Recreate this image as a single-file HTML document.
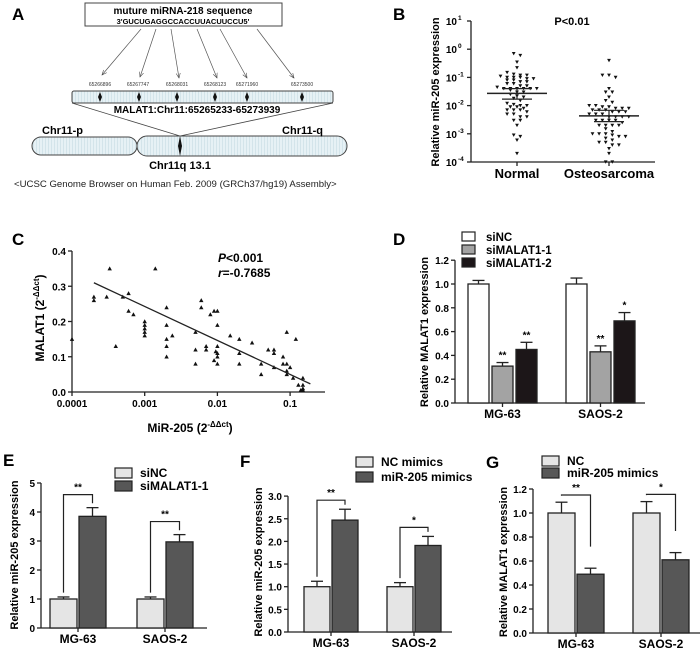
<!DOCTYPE html>
<html><head><meta charset="utf-8"><style>
html,body{margin:0;padding:0;background:#fff}
svg{display:block;font-family:"Liberation Sans",Arial,sans-serif}
.b{font-weight:bold}
</style></head><body>
<svg id="fig" width="700" height="655" viewBox="0 0 700 655" xmlns="http://www.w3.org/2000/svg">
<defs>
<pattern id="stripe" width="3" height="3" patternUnits="userSpaceOnUse"><rect width="3" height="3" fill="#e6f1f5"/><rect width="1" height="3" fill="#d3e4ea"/></pattern>
<marker id="arr" markerWidth="8" markerHeight="8" refX="7" refY="4" orient="auto"><path d="M0,1 L7,4 L0,7" fill="none" stroke="#444" stroke-width="0.8"/></marker>
</defs>
<g>
<text x="12" y="20" class="b" font-size="17">A</text>
<rect x="85" y="3" width="197" height="23" fill="#fff" stroke="#444"/>
<text x="183" y="14" class="b" font-size="10" text-anchor="middle">muture miRNA-218 sequence</text>
<text x="183" y="24" class="b" font-size="7.5" text-anchor="middle">3'GUCUGAGGCCACCUUACUUCCU5'</text>
<g stroke="#555" stroke-width="0.7" marker-end="url(#arr)">
<line x1="141" y1="29" x2="102" y2="75"/><line x1="156" y1="29" x2="140" y2="77"/><line x1="171" y1="29" x2="179" y2="78"/><line x1="197" y1="29" x2="217" y2="78"/><line x1="220" y1="29" x2="247" y2="78"/><line x1="257" y1="29" x2="294" y2="78"/>
</g>
<g font-size="5" fill="#333" text-anchor="middle">
<text x="100" y="86">65266896</text><text x="138" y="86">65267747</text><text x="177" y="86">65268031</text><text x="215" y="86">65268123</text><text x="247" y="86">65271960</text><text x="302" y="86">65273500</text>
</g>
<rect x="72" y="91" width="261" height="12" rx="2" fill="url(#stripe)" stroke="#444"/>
<g fill="#111">
<path d="M100,92 l2,5 l-2,5 l-2,-5z"/><path d="M139,92 l2,5 l-2,5 l-2,-5z"/><path d="M177,92 l2,5 l-2,5 l-2,-5z"/><path d="M215,92 l2,5 l-2,5 l-2,-5z"/><path d="M247,92 l2,5 l-2,5 l-2,-5z"/><path d="M302,92 l2,5 l-2,5 l-2,-5z"/>
</g>
<text x="197" y="113" class="b" font-size="10" text-anchor="middle">MALAT1:Chr11:65265233-65273939</text>
<line x1="72" y1="103" x2="180" y2="136" stroke="#444" stroke-width="0.8"/>
<line x1="333" y1="103" x2="180" y2="136" stroke="#444" stroke-width="0.8"/>
<rect x="32" y="137" width="105" height="18" rx="9" fill="url(#stripe)" stroke="#444"/>
<rect x="137" y="136" width="210" height="20" rx="10" fill="url(#stripe)" stroke="#444"/>
<path d="M180,136 l2,10 l-2,10 l-2,-10z" fill="#111"/>
<text x="42" y="134" class="b" font-size="11">Chr11-p</text>
<text x="323" y="134" class="b" font-size="11" text-anchor="end">Chr11-q</text>
<text x="180" y="169" class="b" font-size="11" text-anchor="middle">Chr11q 13.1</text>
<text x="14" y="187" font-size="9.6" fill="#222">&lt;UCSC Genome Browser on Human Feb. 2009 (GRCh37/hg19) Assembly&gt;</text>
</g>
<text x="393" y="20" class="b" font-size="17">B</text>
<text x="572" y="25" class="b" font-size="11" text-anchor="middle">P&lt;0.01</text>
<text transform="translate(439,92) rotate(-90)" class="b" font-size="11" text-anchor="middle">Relative miR-205 expression</text>
<text x="12" y="245" class="b" font-size="17">C</text>
<text x="218" y="262" class="b" font-size="12"><tspan font-style="italic">P</tspan>&lt;0.001</text>
<text x="218" y="277" class="b" font-size="12"><tspan font-style="italic">r</tspan>=-0.7685</text>
<text transform="translate(44,318) rotate(-90)" class="b" font-size="12" text-anchor="middle">MALAT1 (2<tspan font-size="8" dy="-5">-ΔΔct</tspan><tspan dy="5">)</tspan></text>
<text x="190" y="432" class="b" font-size="12" text-anchor="middle">MiR-205 (2<tspan font-size="8" dy="-5">-ΔΔct</tspan><tspan dy="5">)</tspan></text>
<text x="393" y="245" class="b" font-size="17">D</text>
<text transform="translate(428,332) rotate(-90)" class="b" font-size="11" text-anchor="middle">Relative MALAT1 expression</text>
<text x="3" y="466" class="b" font-size="17">E</text>
<text transform="translate(18,555) rotate(-90)" class="b" font-size="11" text-anchor="middle">Relative miR-205 expression</text>
<text x="240" y="467" class="b" font-size="17">F</text>
<text transform="translate(262,562) rotate(-90)" class="b" font-size="11" text-anchor="middle">Relative miR-205 expression</text>
<text x="486" y="468" class="b" font-size="17">G</text>
<text transform="translate(507,562) rotate(-90)" class="b" font-size="11" text-anchor="middle">Relative MALAT1 expression</text>
</svg>
<script>
var bGroups = ['Normal', 'Osteosarcoma'];
var bNormal = [0.7,0.6,0.35,0.22,0.15,0.13,0.12,0.12,0.11,0.1,0.1,0.1,0.09,0.09,0.08,0.08,0.07,0.07,0.06,0.06,0.05,0.05,0.045,0.04,0.04,0.04,0.04,0.04,0.04,0.035,0.03,0.03,0.025,0.022,0.02,0.018,0.015,0.012,0.011,0.01,0.01,0.009,0.009,0.008,0.007,0.007,0.007,0.006,0.005,0.005,0.004,0.004,0.003,0.003,0.002,0.0009,0.0008,0.0006,0.0002];
var bOsteo = [0.4,0.12,0.12,0.1,0.04,0.03,0.03,0.02,0.015,0.013,0.01,0.01,0.009,0.009,0.008,0.008,0.008,0.007,0.007,0.007,0.006,0.006,0.006,0.005,0.005,0.005,0.004,0.004,0.004,0.004,0.003,0.003,0.003,0.003,0.0025,0.002,0.002,0.002,0.002,0.0015,0.0012,0.001,0.001,0.001,0.0009,0.0008,0.0008,0.0007,0.0006,0.0005,0.0005,0.0004,0.0004,0.0003,0.0002,0.0001,0.0001];
var bMeans = [0.027, 0.0043];
var bSemLow = [0.017, 0.0027];
var bSemHigh = [0.04, 0.0068];
var bTickExp = ['1','0','-1','-2','-3','-4'];
var cX = [0.0001,0.0002,0.0002,0.0003,0.00033,0.0005,0.0006,0.0006,0.0007,0.0004,0.001,0.001,0.001,0.001,0.001,0.0014,0.002,0.002,0.002,0.002,0.002,0.0024,0.005,0.005,0.005,0.006,0.006,0.007,0.007,0.008,0.009,0.01,0.01,0.01,0.009,0.01,0.01,0.01,0.0095,0.015,0.02,0.02,0.02,0.03,0.04,0.04,0.05,0.06,0.06,0.06,0.08,0.08,0.09,0.09,0.09,0.09,0.12,0.1,0.11,0.13,0.15,0.15,0.15,0.15,0.14];
var cY = [0.15,0.27,0.26,0.27,0.35,0.27,0.28,0.23,0.22,0.13,0.20,0.19,0.18,0.17,0.16,0.35,0.24,0.19,0.15,0.13,0.10,0.16,0.17,0.12,0.08,0.26,0.24,0.13,0.12,0.22,0.23,0.23,0.19,0.13,0.09,0.11,0.10,0.08,0.115,0.16,0.15,0.11,0.08,0.14,0.08,0.05,0.12,0.12,0.11,0.07,0.10,0.08,0.08,0.06,0.05,0.17,0.15,0.07,0.04,0.02,0.04,0.02,0.01,0.005,0.005];
var cFitX = [0.0002, 0.19];
var cFitY = [0.31, 0.023];
var cXTicks = ['0.0001','0.001','0.01','0.1'];
var cYTicks = ['0.0','0.1','0.2','0.3','0.4'];
var dCats = ['MG-63','SAOS-2'];
var dSeries = ['siNC','siMALAT1-1','siMALAT1-2'];
var dSiNC = [1.0, 1.0];
var dSi1 = [0.31, 0.43];
var dSi2 = [0.45, 0.69];
var dErrNC = [0.03, 0.05];
var dErr1 = [0.03, 0.05];
var dErr2 = [0.06, 0.07];
var dStars1 = ['**','**'];
var dStars2 = ['**','*'];
var dTicks = ['0.0','0.2','0.4','0.6','0.8','1.0','1.2'];
var eCats = ['MG-63','SAOS-2'];
var eSeries = ['siNC','siMALAT1-1'];
var eCtrl = [1.0, 1.0];
var eTreat = [3.85, 2.97];
var eErrCtrl = [0.07, 0.07];
var eErrTreat = [0.3, 0.25];
var eStars = ['**','**'];
var eTicks = ['0','1','2','3','4','5'];
var fCats = ['MG-63','SAOS-2'];
var fSeries = ['NC mimics','miR-205 mimics'];
var fCtrl = [1.0, 1.0];
var fTreat = [2.47, 1.91];
var fErrCtrl = [0.12, 0.09];
var fErrTreat = [0.24, 0.2];
var fStars = ['**','*'];
var fTicks = ['0.0','0.5','1.0','1.5','2.0','2.5','3.0'];
var gCats = ['MG-63','SAOS-2'];
var gSeries = ['NC','miR-205 mimics'];
var gCtrl = [1.0, 1.0];
var gTreat = [0.49, 0.61];
var gErrCtrl = [0.09, 0.095];
var gErrTreat = [0.05, 0.06];
var gStars = ['**','*'];
var gTicks = ['0.0','0.2','0.4','0.6','0.8','1.0','1.2'];

var NS = 'http://www.w3.org/2000/svg';
var svg = document.getElementById('fig');
function mk(tag, attrs, parent) {
  var el = document.createElementNS(NS, tag);
  for (var k in attrs) el.setAttribute(k, attrs[k]);
  (parent || svg).appendChild(el);
  return el;
}
function line(x1,y1,x2,y2,p,w){return mk('line',{x1:x1,y1:y1,x2:x2,y2:y2,stroke:'#222','stroke-width':w||1.3},p);}
function txt(x,y,s,anchor,size,p){var t=mk('text',{x:x,y:y,'text-anchor':anchor||'middle','font-size':size||10,'font-weight':'bold'},p);t.textContent=s;return t;}

(function(){
  var g = mk('g',{});
  
  
  var x0=471, x1=655, yTop=21, yBot=162, dec=(yBot-yTop)/5;
  function yB(v){return yBot-(Math.log10(v)+4)*dec;}
  var centers=[517,609];
  var ax=line(x0,yTop,x0,yBot,g);  
  var bx=line(x0,yBot,x1,yBot,g);  
  for(var i=0;i<bTickExp.length;i++){
    var e=parseFloat(bTickExp[i]); var y=yB(Math.pow(10,e));
    line(x0-4,y,x0,y,g);
    var t=mk('text',{x:x0-14,y:y+4,'text-anchor':'end','font-size':10,'font-weight':'bold'},g);
    t.textContent='10';
    
    
    var s=mk('text',{x:x0-13,y:y-1,'text-anchor':'start','font-size':6.5,'font-weight':'bold'},g);
    s.textContent=bTickExp[i];
    
    
  }
  var groups=[bNormal,bOsteo];
  for(var gi=0;gi<2;gi++){
    var c=centers[gi];
    line(c,yBot,c,yBot+4,g);
    var lb=txt(c,yBot+16,bGroups[gi],'middle',13,g);
    
    
    var vals=groups[gi].slice().sort(function(a,b){return b-a;});
    var rows=[]; var cur=null;
    for(var k=0;k<vals.length;k++){
      var y=yB(vals[k]);
      if(cur && Math.abs(y-cur.y0)<3){cur.ys.push(y);} else {cur={y0:y,ys:[y]};rows.push(cur);}
    }
    rows.forEach(function(r){
      var n=r.ys.length;
      r.ys.forEach(function(y,j){
        var x=c+(j-(n-1)/2)*6.6;
        var p=mk('path',{d:'M'+(x-1.9)+','+(y-1.6)+' L'+(x+1.9)+','+(y-1.6)+' L'+x+','+(y+1.8)+'Z',fill:'#111'},g);
        
        
      });
    });
    var m=line(c-30,yB(bMeans[gi]),c+30,yB(bMeans[gi]),g,1.5);
    
    
    line(c,yB(bSemLow[gi]),c,yB(bSemHigh[gi]),g,1.2);
    line(c-15,yB(bSemLow[gi]),c+15,yB(bSemLow[gi]),g,1.2);
    line(c-15,yB(bSemHigh[gi]),c+15,yB(bSemHigh[gi]),g,1.2);
  }
})();

(function(){
  var g = mk('g',{});
  
  
  var x0=72, xEnd=325, y0=392, yTop=251;
  function xC(v){return x0+(Math.log10(v)+4)*72.7;}
  function yC(v){return y0-v*352.5;}
  var ax=line(x0,yTop,x0,y0,g);  
  var bx=line(x0,y0,xEnd,y0,g);  
  cYTicks.forEach(function(s){var y=yC(parseFloat(s));line(x0-4,y,x0,y,g);
    var t=txt(x0-6,y+4,s,'end',10,g);  });
  cXTicks.forEach(function(s){var x=xC(parseFloat(s));line(x,y0,x,y0+4,g);
    var t=txt(x,y0+15,s,'middle',10,g);  });
  for(var i=0;i<cX.length;i++){
    var x=xC(cX[i]), y=yC(cY[i]);
    var p=mk('path',{d:'M'+(x-2.2)+','+(y+1.8)+' L'+(x+2.2)+','+(y+1.8)+' L'+x+','+(y-2.2)+'Z',fill:'#111'},g);
    
    
  }
  var fl=line(xC(cFitX[0]),yC(cFitY[0]),xC(cFitX[1]),yC(cFitY[1]),g,1.3);
  
  
})();

function bar(g,x,w,y,yBase,fill,name){
  var r=mk('rect',{x:x,y:y,width:w,height:yBase-y,fill:fill,stroke:'#222','stroke-width':1.3},g);
  
  
  return r;
}
function errbar(g,cx,yv,ye,cap){line(cx,yv,cx,ye,g,1.3);line(cx-cap,ye,cx+cap,ye,g,1.3);}

(function(){
  var g = mk('g',{});
  
  
  var x0=455, xEnd=645, yBase=403;
  function yD(v){return yBase-v*119;}
  var ax=line(x0,yD(1.2),x0,yBase,g);  
  var bx=line(x0,yBase,xEnd,yBase,g);  
  dTicks.forEach(function(s){var y=yD(parseFloat(s));line(x0-4,y,x0,y,g);
    var t=txt(x0-6,y+4,s,'end',10,g);  });
  var starts=[468,566], w=21, step=24, fills=['#ffffff','#a3a3a3','#1c1618'];
  var vals=[dSiNC,dSi1,dSi2], errs=[dErrNC,dErr1,dErr2];
  for(var c=0;c<2;c++){
    for(var s=0;s<3;s++){
      var bxp=starts[c]+s*step;
      var yv=yD(vals[s][c]);
      errbar(g,bxp+w/2,yv,yD(vals[s][c]+errs[s][c]),6);
      bar(g,bxp,w,yv,yBase,fills[s],'d-bar-'+dSeries[s].toLowerCase()+'-'+dCats[c].toLowerCase());
    }
    var sx1=txt(starts[c]+step+w/2,yD(dSi1[c]+dErr1[c])-4,dStars1[c],'middle',10,g);
    
    
    var sx2=txt(starts[c]+2*step+w/2,yD(dSi2[c]+dErr2[c])-4,dStars2[c],'middle',10,g);
    
    
    var cx=starts[c]+step+w/2;
    var lb=txt(cx,yBase+15,dCats[c],'middle',12,g);
    
    
    line(cx,yBase,cx,yBase+4,g);
  }
  var ly=[237,250,263];
  for(var s=0;s<3;s++){
    var lr=mk('rect',{x:462,y:ly[s]-5,width:13,height:9,fill:fills[s],stroke:'#222','stroke-width':1.2},g);
    
    
    var lt=txt(486,ly[s]+4,dSeries[s],'start',11.5,g);
    
    
  }
})();

function twoBar(cfg){
  var g = mk('g',{});
  
  
  function yS(v){return cfg.yBase-v*cfg.ppu;}
  var maxV=parseFloat(cfg.ticks[cfg.ticks.length-1]);
  var ax=line(cfg.x0,yS(maxV),cfg.x0,cfg.yBase,g);  
  var bx=line(cfg.x0,cfg.yBase,cfg.xEnd,cfg.yBase,g);  
  cfg.ticks.forEach(function(s){var y=yS(parseFloat(s));line(cfg.x0-4,y,cfg.x0,y,g);
    var t=txt(cfg.x0-6,y+4,s,'end',10,g);  });
  var w=cfg.w, fills=['#e5e5e5','#575757'];
  for(var c=0;c<2;c++){
    var xs=cfg.starts[c];
    var x2=xs+w+2;
    var yc=yS(cfg.ctrl[c]), yt=yS(cfg.treat[c]);
    errbar(g,xs+w/2,yc,yS(cfg.ctrl[c]+cfg.errC[c]),6);
    errbar(g,x2+w/2,yt,yS(cfg.treat[c]+cfg.errT[c]),6);
    bar(g,xs,w,yc,cfg.yBase,fills[0],cfg.id+'-bar-ctrl-'+cfg.cats[c].toLowerCase());
    bar(g,x2,w,yt,cfg.yBase,fills[1],cfg.id+'-bar-treat-'+cfg.cats[c].toLowerCase());
    var top=Math.max(cfg.ctrl[c]+cfg.errC[c],cfg.treat[c]+cfg.errT[c])+cfg.bpad;
    var lEnd=cfg.mode==='up'?cfg.ctrl[c]+cfg.errC[c]+cfg.gap:cfg.ctrl[c]+cfg.errC[c]+cfg.gap*0.3;
    var rEnd=cfg.treat[c]+cfg.errT[c]+cfg.gap;
    var br=mk('path',{d:'M'+(xs+w/2)+','+yS(lEnd)+' V'+yS(top)+' H'+(x2+w/2)+' V'+yS(rEnd),fill:'none',stroke:'#222','stroke-width':1.2},g);
    
    
    var st=txt((xs+x2+w)/2,yS(top)-4,cfg.stars[c],'middle',10,g);
    
    
    var cx=(xs+x2+w)/2;
    line(cx,cfg.yBase,cx,cfg.yBase+4,g);
    var lb=txt(cx,cfg.yBase+15,cfg.cats[c],'middle',12,g);
    
    
  }
  for(var s=0;s<2;s++){
    var lr=mk('rect',{x:cfg.legX,y:cfg.legY[s]-5,width:17,height:10,fill:fills[s],stroke:'#222','stroke-width':1.2},g);
    
    
    var lt=txt(cfg.legX+25,cfg.legY[s]+4,cfg.series[s],'start',12,g);
    
    
  }
}
twoBar({id:'e',x0:41,xEnd:207,yBase:628,ppu:29,ticks:eTicks,cats:eCats,series:eSeries,ctrl:eCtrl,treat:eTreat,errC:eErrCtrl,errT:eErrTreat,stars:eStars,starts:[50,137],w:27,bpad:0.45,gap:0.15,mode:'up',legX:115,legY:[473,486]});
twoBar({id:'f',x0:288,xEnd:452,yBase:632,ppu:45.3,ticks:fTicks,cats:fCats,series:fSeries,ctrl:fCtrl,treat:fTreat,errC:fErrCtrl,errT:fErrTreat,stars:fStars,starts:[304,387],w:26,bpad:0.2,gap:0.1,mode:'up',legX:356,legY:[462,477]});
twoBar({id:'g',x0:533,xEnd:700,yBase:633,ppu:120,ticks:gTicks,cats:gCats,series:gSeries,ctrl:gCtrl,treat:gTreat,errC:gErrCtrl,errT:gErrTreat,stars:gStars,starts:[548,633],w:27,bpad:0.06,gap:0.18,mode:'down',legX:542,legY:[461,473]});
</script>
</body></html>
